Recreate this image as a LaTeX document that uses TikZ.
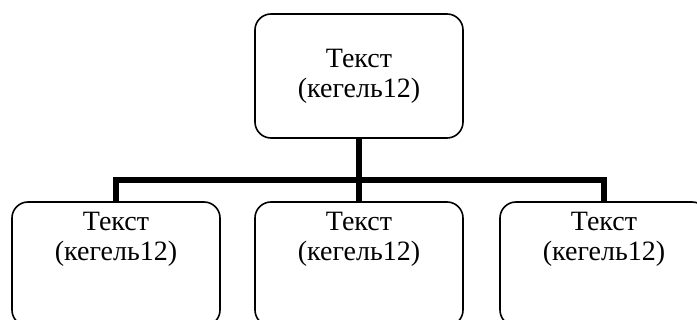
\documentclass[tikz,border=0pt]{standalone}
\usepackage{fontspec}
\setmainfont{Liberation Serif}
\usetikzlibrary{positioning,calc}
\tikzset{
  unit box/.style={
    draw,
    line width=1.6pt,
    rounded corners=16pt,
    minimum width=208pt,
    minimum height=124pt,
    inner sep=0pt,
    align=center,
    font=\fontsize{28}{30}\selectfont
  },
  top text/.style={
    label={[anchor=north,inner sep=0pt,yshift=-11pt,align=center,
            font=\fontsize{28}{30}\selectfont]north:#1}
  },
  link/.style={
    line width=6pt
  }
}

\begin{document}
\begin{tikzpicture}[x=1pt, y=-1pt]
   \useasboundingbox (0,0) rectangle (697,320);
   \clip (0,0) rectangle (697,320);

   \node[unit box] (head) at (359,76) {Текст\\(кегель12)};
   \node[unit box, top text={Текст\\(кегель12)}] (left)  at (116,264) {};
   \node[unit box, top text={Текст\\(кегель12)}] (mid)   at (359,264) {};
   \node[unit box, top text={Текст\\(кегель12)}] (right) at (604,264) {};

   \coordinate (bar) at (359,180);

   \draw[link] (head.south) -- (mid.north);
   \draw[link] (left.north) |- (bar) -| (right.north);
\end{tikzpicture}
\end{document}
